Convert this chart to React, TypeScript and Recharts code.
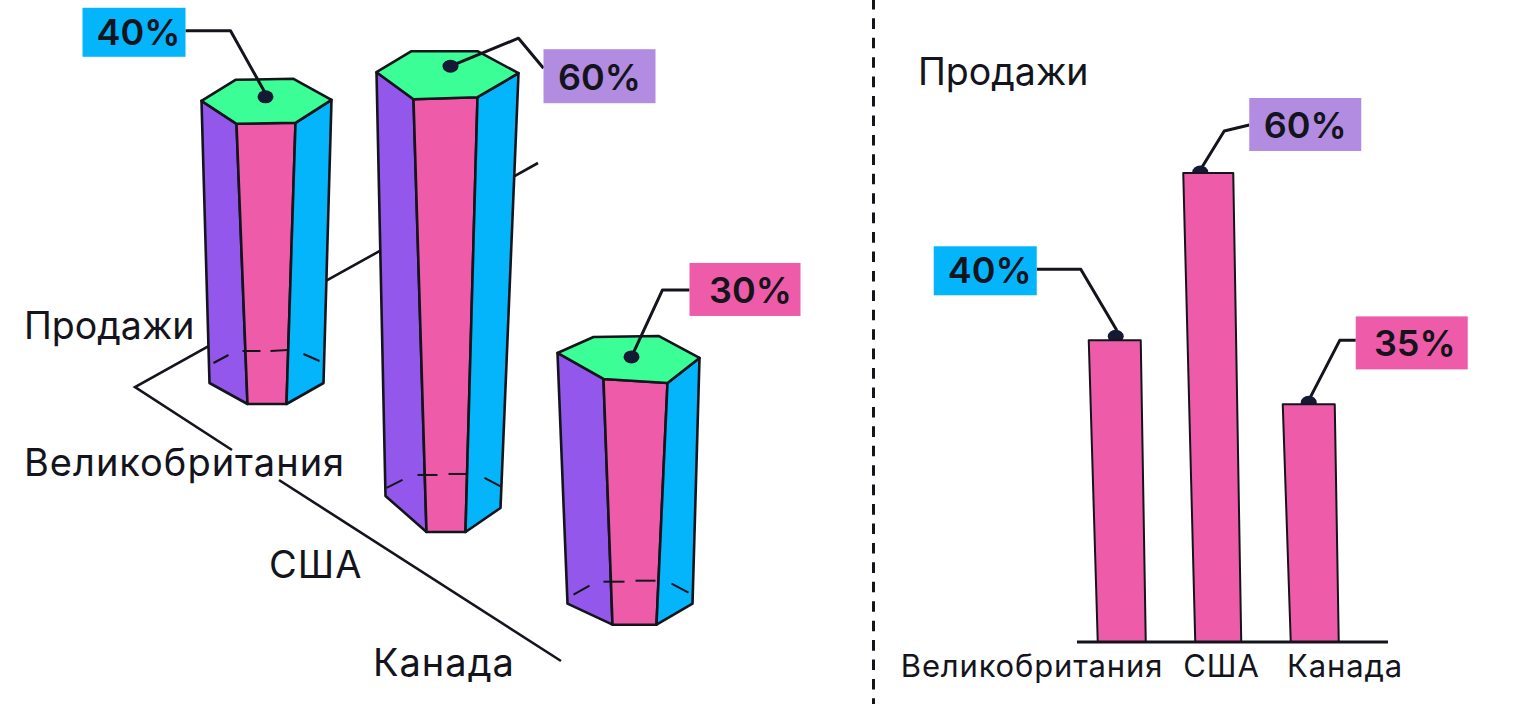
import { Bar, ComposedChart, XAxis, YAxis } from 'recharts'

// Left (3D) chart: heights and floor offsets read in axis units
const prismCategories = ['Великобритания', 'США', 'Канада']
const prismFloors = [30.8, 14.1, 2]
const prismValues = [39.7, 60, 35.2]
const prismLabels = ['40%', '60%', '30%']

// Right (flat) chart
const barCategories = ['Великобритания', 'США', 'Канада']
const barValues = [38.6, 60, 30.4]
const barLabels = ['40%', '60%', '35%']

const salesTitle = 'Продажи'

const prismTable = prismCategories.map((name, i) => ({
  name,
  floor: prismFloors[i],
  value: prismValues[i],
}))
const barTable = barCategories.map((name, i) => ({ name, value: barValues[i] }))

const INK = '#14141c'
const DOT = '#141a33'
const PURPLE = '#9457eb'
const PINK = '#ee5ca9'
const CYAN = '#04b5fb'
const GREEN = '#3cfe97'
const LILAC = '#b18ce0'
const FONT = 'Inter, sans-serif'

type Pt = [number, number]

// Hand-drawn look of each prism, offsets from the bar's top centre / bottom centre
const PRISM_LOOK: { top: Pt[]; bottom: Pt[]; dashes: [Pt, Pt][] }[] = [
  {
    top: [[-65, 1], [-31, -20], [27, -21], [65, 0], [29, 23], [-30, 24]],
    bottom: [[-57, -21], [-19, 0], [20, 0], [57, -21]],
    dashes: [
      [[-53, -41], [-38, -49]],
      [[-24, -53], [-6, -53]],
      [[4, -53], [21, -54]],
      [[37, -50], [53, -43]],
    ],
  },
  {
    top: [[-71, 0], [-36, -21], [30, -21], [71, 1], [30, 25], [-34, 27]],
    bottom: [[-62, -36], [-21, 0], [18, 0], [53, -24]],
    dashes: [
      [[-61, -44], [-45, -52]],
      [[-30, -57], [-10, -57]],
      [[1, -58], [20, -58]],
      [[37, -54], [54, -45]],
    ],
  },
  {
    top: [[-71, -2], [-35, -18], [30, -19], [71, 3], [39, 28], [-25, 24]],
    bottom: [[-61, -21], [-16, 0], [28, 0], [64, -21]],
    dashes: [
      [[-55, -30], [-39, -39]],
      [[-25, -43], [-4, -43]],
      [[7, -44], [27, -44]],
      [[43, -41], [60, -32]],
    ],
  },
]

// Callouts, offsets from the bar's top centre
const PRISM_CALLOUTS = [
  { box: [-184, -92, 103, 49], text: [-128, -68], line: [[-81, -69], [-36, -69], [-2, -8]], dot: [-1, -3], fill: CYAN },
  { box: [96, -23, 112, 54], text: [152, 5], line: [[96, -4], [71, -34], [3, -6]], dot: [3, -6], fill: LILAC },
  { box: [61, -92, 111, 53], text: [122, -65], line: [[61, -65], [34, -65], [3, 2]], dot: [3, 2], fill: PINK },
]
const BAR_CALLOUTS = [
  { box: [-188, -94, 103, 49], text: [-132, -70], line: [[-85, -71], [-41, -71], [-5, -10]], dot: [-6, -4], fill: CYAN },
  { box: [31, -75, 112, 53], text: [87, -48], line: [[31, -48], [6, -42], [-18, -3]], dot: [-18, -1], fill: LILAC },
  { box: [41, -88, 112, 53], text: [100, -61], line: [[41, -64], [25, -64], [-5, -6]], dot: [-6, -2], fill: PINK },
]

// Bars lean a little: top corners relative to the bottom centre
const BAR_LEAN = [
  { topLeft: -33, topRight: 19, bottom: 24 },
  { topLeft: -35, topRight: 15, bottom: 23 },
  { topLeft: -32, topRight: 20, bottom: 24 },
]

const PRISM_TICKS = [
  { dx: -242, y: 476 },
  { dx: -178, y: 578 },
  { dx: -255, y: 676 },
]
const BAR_TICKS = [{ dx: -90 }, { dx: 3 }, { dx: 30 }]

const pts = (list: number[][]) => list.map((p) => p.join(',')).join(' ')

function Callout({ cx, y, c, label }: { cx: number; y: number; c: (typeof PRISM_CALLOUTS)[number]; label: string }) {
  const at = (p: number[]) => [cx + p[0], y + p[1]]
  return (
    <g>
      <polyline points={pts(c.line.map(at))} fill="none" stroke={INK} strokeWidth={3} strokeLinejoin="round" />
      <ellipse cx={cx + c.dot[0]} cy={y + c.dot[1]} rx={8} ry={6.5} fill={DOT} />
      <rect x={cx + c.box[0]} y={y + c.box[1]} width={c.box[2]} height={c.box[3]} fill={c.fill} />
      <text
        x={cx + c.text[0]}
        y={y + c.text[1]}
        textAnchor="middle"
        dominantBaseline="central"
        fontFamily={FONT}
        fontWeight={600}
        fontSize={36}
        fill={INK}
      >
        {label}
      </text>
    </g>
  )
}

function PrismShape(props: any) {
  const { x, y, width, height, index } = props
  const cx = x + width / 2
  const yBottom = y + height
  const look = PRISM_LOOK[index]
  const t = look.top.map((p) => [cx + p[0], y + p[1]])
  const b = look.bottom.map((p) => [cx + p[0], yBottom + p[1]])
  const sw = 2.6
  return (
    <g>
      <polygon points={pts([t[0], t[5], b[1], b[0]])} fill={PURPLE} stroke={INK} strokeWidth={sw} strokeLinejoin="round" />
      <polygon points={pts([t[5], t[4], b[2], b[1]])} fill={PINK} stroke={INK} strokeWidth={sw} strokeLinejoin="round" />
      <polygon points={pts([t[4], t[3], b[3], b[2]])} fill={CYAN} stroke={INK} strokeWidth={sw} strokeLinejoin="round" />
      <polygon points={pts(t)} fill={GREEN} stroke={INK} strokeWidth={sw} strokeLinejoin="round" />
      {look.dashes.map((d, i) => (
        <line
          key={i}
          x1={cx + d[0][0]}
          y1={yBottom + d[0][1]}
          x2={cx + d[1][0]}
          y2={yBottom + d[1][1]}
          stroke={INK}
          strokeWidth={2}
        />
      ))}
      <Callout cx={cx} y={y} c={PRISM_CALLOUTS[index]} label={prismLabels[index]} />
    </g>
  )
}

function LeanBarShape(props: any) {
  const { x, y, width, height, index } = props
  const cx = x + width / 2
  const lean = BAR_LEAN[index]
  return (
    <g>
      <Callout cx={cx} y={y} c={BAR_CALLOUTS[index]} label={barLabels[index]} />
      <polygon
        points={pts([
          [cx + lean.topLeft, y],
          [cx + lean.topRight, y],
          [cx + lean.bottom, y + height],
          [cx - lean.bottom, y + height],
        ])}
        fill={PINK}
        stroke={INK}
        strokeWidth={2}
        strokeLinejoin="round"
      />
    </g>
  )
}

function PrismTick(props: any) {
  const { x, index, payload } = props
  const t = PRISM_TICKS[index]
  return (
    <text x={x + t.dx} y={t.y} fontFamily={FONT} fontSize={38} letterSpacing={1} fill={INK}>
      {payload.value}
    </text>
  )
}

function BarTick(props: any) {
  const { x, index, payload } = props
  return (
    <text
      x={x + BAR_TICKS[index].dx}
      y={677}
      textAnchor="middle"
      fontFamily={FONT}
      fontSize={31}
      letterSpacing={0.85}
      fill={INK}
    >
      {payload.value}
    </text>
  )
}

export default function App() {
  return (
    <div style={{ position: 'absolute', left: 0, top: 0, width: 1525, height: 704, background: '#fff', overflow: 'hidden' }}>
      {/* floor lines sit behind the prisms, the divider between the two charts */}
      <svg width={1525} height={704} style={{ position: 'absolute', left: 0, top: 0 }}>
        <polyline points="538,163 135,387 232,450" fill="none" stroke={INK} strokeWidth={2.6} />
        <line x1={279} y1={480} x2={561} y2={661} stroke={INK} strokeWidth={2.6} />
        <line
          x1={873.5}
          y1={0}
          x2={873.5}
          y2={704}
          stroke={INK}
          strokeWidth={3}
          strokeDasharray="10.6 8.83"
          strokeDashoffset={1.13}
        />
        <text x={24} y={339} fontFamily={FONT} fontSize={37.5} fill={INK}>
          {salesTitle}
        </text>
        <text x={918} y={85} fontFamily={FONT} fontSize={37.5} fill={INK}>
          {salesTitle}
        </text>
      </svg>

      <div style={{ position: 'absolute', left: 0, top: 0 }}>
        <ComposedChart
          width={873}
          height={704}
          data={prismTable}
          margin={{ top: 27, right: 154.5, bottom: 34, left: 175.5 }}
          barSize={142}
        >
          <XAxis dataKey="name" height={30} axisLine={false} tickLine={false} interval={0} tick={<PrismTick />} />
          <YAxis hide domain={[0, 80]} />
          <Bar dataKey="floor" stackId="p" fill="transparent" isAnimationActive={false} />
          <Bar dataKey="value" stackId="p" shape={PrismShape} isAnimationActive={false} />
        </ComposedChart>
      </div>

      <div style={{ position: 'absolute', left: 880, top: 0 }}>
        <ComposedChart
          width={645}
          height={704}
          data={barTable}
          margin={{ top: 173, right: 137, bottom: 32, left: 197 }}
          barSize={50}
        >
          <XAxis
            dataKey="name"
            height={30}
            padding={{ left: -3.25, right: 24.75 }}
            axisLine={{ stroke: INK, strokeWidth: 2.8 }}
            tickLine={false}
            interval={0}
            tick={<BarTick />}
          />
          <YAxis hide domain={[0, 60]} />
          <Bar dataKey="value" shape={LeanBarShape} isAnimationActive={false} />
        </ComposedChart>
      </div>
    </div>
  )
}
